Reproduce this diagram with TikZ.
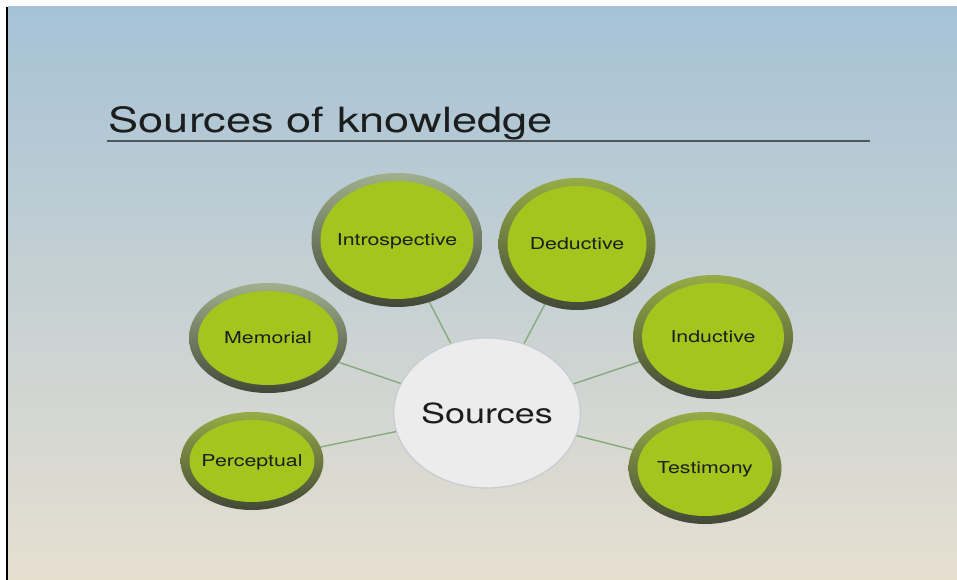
\documentclass[tikz,border=0pt]{standalone}
\usepackage{fontspec}
\setmainfont[FakeStretch=1.3]{TeX Gyre Heros}
\usetikzlibrary{calc,shapes.geometric}
\definecolor{SlideSky}{RGB}{ 166, 194, 214}
\definecolor{SlideMist}{RGB}{ 204, 217, 223}
\definecolor{SlideSand}{RGB}{ 230, 223, 208}
\definecolor{SlideLeaf}{RGB}{ 163, 197, 30}
\definecolor{SlideRimTop}{RGB}{ 150, 172, 70}
\definecolor{SlideRimLow}{RGB}{ 66, 72, 56}
\definecolor{SlideRimGrey}{RGB}{ 160, 176, 140}
\definecolor{SlideHub}{RGB}{ 236, 236, 236}
\definecolor{SlideHubEdge}{RGB}{ 198, 204, 210}
\definecolor{SlideSpoke}{RGB}{ 135, 170, 125}
\definecolor{SlideInk}{RGB}{ 28, 30, 30}
\definecolor{SlideRule}{RGB}{ 80, 86, 92}

\begin{document}
\begin{tikzpicture}[x=1pt, y=-1pt]
      \tikzstyle{source}=[ellipse, inner sep=0pt, text depth=0pt, top color=SlideRimTop, bottom color=SlideRimLow,
        text=SlideInk, font=\fontsize{16.4}{18}\selectfont,
        path picture={\fill[SlideLeaf] let \p1=(path picture bounding box.north east),
          \p2=(path picture bounding box.center) in (\p2) ellipse ({\x1-\x2-9pt} and {\y1-\y2-8pt});}];
      \tikzstyle{hub}=[ellipse, inner sep=0pt, fill=SlideHub, draw=SlideHubEdge, line width=1.2pt,
        text=SlideInk, font=\fontsize{27.7}{30}\selectfont];
      \tikzstyle{spoke}=[SlideSpoke, line width=1.4pt];

      \pgfdeclarelayer{background}
      \pgfdeclarelayer{spokes}
      \pgfsetlayers{background,spokes,main}

      \useasboundingbox (0, 0) rectangle (957, 580);

      \begin{pgfonlayer}{background}
        \fill[white] (0, 0) rectangle (957, 580);
        \shade[top color=SlideSky, middle color=SlideMist, bottom color=SlideSand] (8, 7) rectangle (957, 580);
        \fill[black] (6, 7) rectangle (8, 580);
      \end{pgfonlayer}

      % title
      \node[anchor=base west, text=SlideInk, font=\fontsize{34.8}{40}\selectfont] (title) at (105, 133) {Sources of knowledge};
      \draw[SlideRule, line width=1.5pt] (107, 141) -- (870, 141);

      \node[hub, minimum width=186, minimum height=150] (hub) at (487, 413) {Sources};

      \node[source, top color=SlideRimGrey, minimum width=171, minimum height=134] (intro) at (397, 240) {Introspective};
      \node[source, minimum width=157, minimum height=132] (deduct) at (577, 244) {Deductive};
      \node[source, top color=SlideRimGrey, minimum width=158, minimum height=110] (memo) at (268, 338) {Memorial};
      \node[source, minimum width=134, minimum height=98] (percept) at (252, 461) {Perceptual};
      \node[source, minimum width=160, minimum height=124] (induct) at (713, 337) {Inductive};
      \node[source, minimum width=153, minimum height=112] (testim) at (705, 468) {Testimony};

      \begin{pgfonlayer}{spokes}
        \foreach \leaf in {intro, deduct, memo, percept, induct, testim}
          \draw[spoke] (hub.center) -- (\leaf.center);
      \end{pgfonlayer}
\end{tikzpicture}
\end{document}
